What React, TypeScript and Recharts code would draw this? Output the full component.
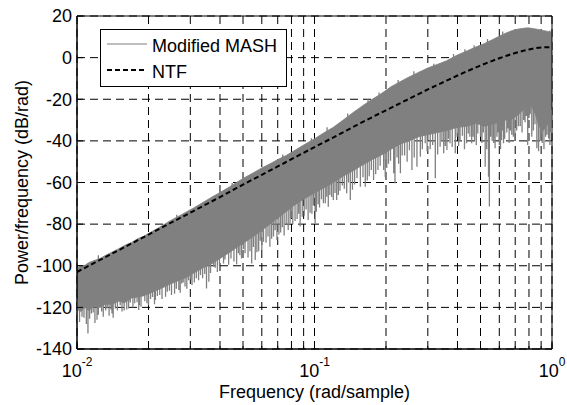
import React from 'react';
import {
  ComposedChart,
  Area,
  Line,
  XAxis,
  YAxis,
  CartesianGrid,
  Legend,
  ReferenceArea,
} from 'recharts';

const FONT = '"Liberation Sans", Arial, Helvetica, sans-serif';

// ---- axis ticks ----
const freqTicks = [
  0.01, 0.02, 0.03, 0.04, 0.05, 0.06, 0.07, 0.08, 0.09,
  0.1, 0.2, 0.3, 0.4, 0.5, 0.6, 0.7, 0.8, 0.9, 1,
];
const majorFreqTicks = [0.01, 0.1, 1];
const majorFreqExps = ['-2', '-1', '0'];
const dbTicks = [-140, -120, -100, -80, -60, -40, -20, 0, 20];

// ---- NTF (black dashed) ----
const ntfFreq = [
  0.01, 0.0125, 0.015, 0.02, 0.025, 0.03, 0.04, 0.05, 0.06, 0.07, 0.08, 0.1,
  0.125, 0.15, 0.2, 0.25, 0.3, 0.35, 0.4, 0.5, 0.6, 0.7, 0.8, 0.9, 1.0,
];
const ntfDb = [
  -103, -97.2, -92.5, -85, -79.2, -74.5, -67, -61, -56.3, -52.3, -48.8, -43,
  -37.3, -32.5, -25.3, -19.8, -15.3, -11.7, -8.6, -3.8, -0.3, 2.2, 3.9, 4.9, 5.0,
];

// ---- Modified MASH PSD: dense band (low / high edge) ----
const bandFreq = [
  0.01, 0.0104, 0.0108, 0.0112, 0.0118, 0.0125, 0.0132, 0.014, 0.015, 0.016,
  0.017, 0.018, 0.019, 0.02, 0.0215, 0.023, 0.025, 0.027, 0.029, 0.031,
  0.034, 0.037, 0.04, 0.044, 0.048, 0.052, 0.056, 0.06, 0.065, 0.07,
  0.076, 0.082, 0.09, 0.1, 0.11, 0.12, 0.132, 0.145, 0.16, 0.175,
  0.19, 0.21, 0.23, 0.25, 0.275, 0.3, 0.33, 0.36, 0.4, 0.44,
  0.48, 0.52, 0.56, 0.6, 0.64, 0.68, 0.72, 0.76, 0.79, 0.82,
  0.85, 0.88, 0.92, 0.96, 1.0,
];
const bandLow = [
  -121, -122, -120, -121.5, -119.5, -120, -118.5, -118.5, -117, -117.5,
  -115.5, -115, -114.5, -113.5, -112, -110.5, -108.5, -107, -105.5, -103.5,
  -101, -99, -96.5, -93.5, -90.5, -88, -85.5, -83, -80, -77,
  -74, -71, -68, -65, -62.5, -60, -57, -54.5, -51.5, -49,
  -47, -44, -41.5, -40, -38, -37, -36, -35, -33.5, -33,
  -31.5, -33, -32, -31, -30, -29.5, -27.5, -25, -22.5, -23.5,
  -27, -33, -35, -32, -30.5,
];
const bandHigh = [
  -101.5, -100, -99.8, -98.5, -97.5, -96.5, -95, -93.5, -91.8, -90,
  -88.8, -87, -86, -84.5, -82.5, -80.5, -78, -76, -74, -72.2,
  -69.5, -67, -64.8, -62, -59.3, -57, -55, -53, -51, -49,
  -47, -44.8, -42, -39, -36, -33.5, -30, -26.5, -23, -20,
  -17.5, -14, -11.5, -9.3, -7, -5, -3.2, -1.5, 1.3, 3.3,
  5.2, 6.8, 8.6, 10.3, 11.8, 13, 13.7, 14.1, 14.3, 14.1,
  13.8, 13.5, 13, 12.6, 12,
];

// ---- Modified MASH PSD: long downward spikes (frequency, start inside band, tip) ----
const spikeFreq = [
  0.01003, 0.0105, 0.01112, 0.0115, 0.01214, 0.0127, 0.0132, 0.01365, 0.01404, 0.0145,
  0.01547, 0.01567, 0.0162, 0.01677, 0.0172, 0.01819, 0.0186, 0.0197, 0.0204, 0.02137,
  0.0223, 0.0236, 0.0245, 0.02575, 0.02683, 0.0276, 0.0285, 0.0295, 0.0305, 0.0318,
  0.03311, 0.0351, 0.0359, 0.0376, 0.039, 0.0414, 0.0435, 0.047, 0.0485, 0.0502,
  0.0525, 0.0544, 0.0563, 0.0582, 0.06, 0.0625, 0.0649, 0.0672, 0.0695, 0.072,
  0.0745, 0.0775, 0.0789, 0.081, 0.0845, 0.087, 0.0905, 0.094, 0.0975, 0.1006,
  0.1018, 0.105, 0.109, 0.1126, 0.1143, 0.118, 0.12, 0.124, 0.128, 0.1366,
  0.1415, 0.1475, 0.156, 0.1636, 0.17, 0.1773, 0.185, 0.1955, 0.1985, 0.205,
  0.2155, 0.2182, 0.2226, 0.23, 0.2395, 0.2572, 0.27, 0.279, 0.2925, 0.307,
  0.3226, 0.338, 0.35, 0.361, 0.372, 0.3915, 0.41, 0.4367, 0.444, 0.459,
  0.4653, 0.48, 0.5, 0.5232, 0.5404, 0.545, 0.56, 0.576, 0.586, 0.6,
  0.613, 0.625, 0.645, 0.6874, 0.71, 0.735, 0.76, 0.78, 0.81, 0.835,
  0.8634, 0.892, 0.91, 0.94, 0.9677, 0.99,
];
const spikeBase = [
  -116, -116, -116, -115, -115, -114, -114, -113, -113, -112,
  -112, -112, -111, -110, -110, -109, -109, -108, -108, -107,
  -106, -105, -104, -103, -102, -101, -100, -99, -98, -97,
  -96, -94, -94, -93, -92, -90, -88, -85, -84, -83,
  -82, -80, -79, -78, -77, -75, -74, -73, -72, -70,
  -69, -68, -67, -66, -64, -63, -62, -61, -60, -59,
  -59, -58, -57, -56, -56, -55, -54, -53, -52, -50,
  -50, -48, -47, -46, -45, -44, -42, -41, -41, -40,
  -38, -38, -37, -36, -35, -34, -33, -33, -32, -31,
  -31, -30, -30, -29, -29, -28, -28, -27, -27, -26,
  -26, -26, -26, -26, -26, -26, -26, -25, -25, -25,
  -24, -24, -23, -22, -22, -20, -18, -17, -17, -19,
  -24, -26, -27, -27, -26, -25,
];
const spikeTip = [
  -130, -124.5, -132.5, -123, -126, -122, -121.5, -124, -123, -120.5,
  -122, -118, -121, -117.6, -120, -121.3, -119.7, -118, -116, -116.5,
  -114, -114.9, -112, -113.5, -111.7, -108.5, -110, -107, -109.3, -106,
  -104.5, -110.9, -107.7, -100.5, -103, -98.9, -99.5, -99.3, -95, -92,
  -96, -98.9, -97.2, -93, -92.4, -89, -90.9, -86, -87.6, -84,
  -85.5, -82.8, -79.6, -80, -77.5, -81.2, -76, -78, -75, -79.6,
  -74, -72, -70, -66.8, -71.6, -67, -68.4, -68.4, -64, -65.2,
  -68.4, -61, -62, -62, -57, -58.8, -54, -54, -57.2, -51,
  -55.6, -60.4, -48, -55.6, -47, -54, -52.4, -47.6, -41.2, -44,
  -58, -42.8, -46, -44.4, -41.2, -46, -40, -41.2, -36.4, -41.2,
  -38, -42, -38, -52.4, -57.2, -71.5, -40, -43.6, -38, -42,
  -39.6, -41.2, -36, -38, -35, -33, -30, -28, -27, -35,
  -43.6, -39.6, -41, -38, -38.8, -36,
];

// ---- Modified MASH PSD: shorter fringe spikes along the lower edge ----
const fringeFreq = [
  0.01025, 0.0107, 0.01095, 0.0113, 0.0117, 0.0119, 0.0123, 0.0129, 0.0134, 0.0139,
  0.0142, 0.0148, 0.0152, 0.0158, 0.0165, 0.0175, 0.0179, 0.0183, 0.0193, 0.02,
  0.0208, 0.0212, 0.0218, 0.0228, 0.024, 0.025, 0.0262, 0.0272, 0.028, 0.029,
  0.0301, 0.0312, 0.0325, 0.0338, 0.0345, 0.0365, 0.0382, 0.0398, 0.042, 0.0445,
  0.0458, 0.0478, 0.0493, 0.051, 0.0535, 0.0553, 0.0572, 0.0591, 0.061, 0.0637,
  0.066, 0.0683, 0.0708, 0.0732, 0.076, 0.0798, 0.0828, 0.0858, 0.0888, 0.0922,
  0.0958, 0.099, 0.1035, 0.107, 0.111, 0.116, 0.122, 0.126, 0.131, 0.1335,
  0.139, 0.1445, 0.151, 0.16, 0.1668, 0.1735, 0.181, 0.189, 0.2015, 0.209,
  0.226, 0.234, 0.2455, 0.251, 0.263, 0.2845, 0.298, 0.3145, 0.33, 0.344,
  0.3555, 0.3665, 0.38, 0.3985, 0.4045, 0.4195, 0.428, 0.451, 0.472, 0.487,
  0.507, 0.514, 0.531, 0.552, 0.568, 0.593, 0.607, 0.619, 0.632, 0.652,
  0.66, 0.668, 0.677, 0.698, 0.7225, 0.748, 0.77, 0.79, 0.8, 0.822,
  0.848, 0.878, 0.9, 0.925, 0.953, 0.98,
];
const fringeBase = [
  -116, -116, -116, -115, -115, -115, -114, -114, -113, -113,
  -113, -112, -112, -111, -110, -110, -109, -109, -108, -108,
  -107, -107, -106, -105, -104, -104, -103, -102, -101, -100,
  -99, -98, -97, -96, -95, -94, -92, -91, -89, -87,
  -86, -85, -84, -83, -81, -80, -79, -78, -76, -75,
  -74, -72, -71, -70, -68, -67, -65, -64, -63, -61,
  -60, -59, -58, -57, -56, -55, -53, -52, -51, -51,
  -50, -49, -48, -46, -45, -44, -43, -41, -40, -39,
  -37, -36, -35, -34, -34, -32, -31, -31, -30, -30,
  -29, -29, -28, -28, -27, -27, -27, -26, -26, -26,
  -26, -26, -26, -26, -25, -25, -24, -24, -23, -23,
  -23, -22, -22, -22, -21, -19, -18, -17, -17, -18,
  -21, -25, -26, -27, -26, -25,
];
const fringeTip = [
  -127, -125, -128, -125.5, -122.5, -127.5, -123.5, -124.5, -120.5, -121,
  -125, -121.5, -119, -121.5, -120.5, -118, -117.5, -119, -117, -119,
  -115, -118.5, -114.5, -116, -112.5, -114, -111, -113, -108, -111,
  -106.5, -108, -107, -106, -104, -103.5, -101, -100, -97, -96.5,
  -98, -94, -96.5, -94, -93, -91, -93.5, -88, -88.5, -86,
  -87, -83, -85, -81.5, -80, -77, -78.5, -75, -76.5, -73,
  -74.5, -71, -70.5, -68, -70, -66, -65, -66, -61.5, -63,
  -60, -63.5, -58, -57.5, -59, -54, -56, -52, -53, -49.5,
  -51, -47, -50, -44.5, -48, -44, -45, -42, -46.5, -40,
  -42.5, -39, -43, -38, -42.5, -37.5, -44, -38, -40, -36.5,
  -41, -36, -44, -38, -41, -36, -44, -35, -39, -34,
  -41, -35, -37, -40, -33, -36, -31, -42, -29, -38,
  -32, -45, -37, -44, -37, -42,
];

// ---- Modified MASH PSD: small upward hairs on the upper edge ----
const hairFreq = [
  0.0123, 0.0263, 0.045, 0.0735, 0.097, 0.113, 0.138, 0.168, 0.187, 0.225,
  0.262, 0.318, 0.385, 0.43, 0.47, 0.535, 0.62, 0.98,
];
const hairBase = [
  -100, -80, -65, -50, -43, -38, -30, -24, -20, -14,
  -10, -6, -2, 0, 2, 5, 8, 9,
];
const hairTip = [
  -95, -75.5, -60.3, -46.5, -38.7, -33.5, -26.8, -20, -16.8, -10.8,
  -6.6, -2.9, 1.8, 4, 6, 9, 12.5, 13,
];

// ---- legend ----
const legendNames = ['Modified MASH', 'NTF'];

// ---- derived tables for the library ----
const ntfData = ntfFreq.map((f, i) => ({ f, v: ntfDb[i] }));
const bandData = bandFreq.map((f, i) => ({ f, band: [bandLow[i], bandHigh[i]] }));
const toSegments = (fs: number[], bs: number[], ts: number[]) =>
  fs.flatMap((f, i) => [
    { f, v: bs[i] },
    { f, v: ts[i] },
    { f, v: null as number | null },
  ]);
const spikeData = [
  ...toSegments(spikeFreq, spikeBase, spikeTip),
  ...toSegments(fringeFreq, fringeBase, fringeTip),
  ...toSegments(hairFreq, hairBase, hairTip),
];

const PSD_GRAY = '#808080';

const XTick = (props: any) => {
  const { x, y, payload } = props;
  const idx = majorFreqTicks.findIndex((t) => Math.abs(t - payload.value) < 1e-9);
  return (
    <g>
      <line x1={x} x2={x} y1={y} y2={y - (idx >= 0 ? 6 : 3)} stroke="#000" strokeWidth={1} />
      {idx >= 0 && (
        <text x={x} y={y + 28} textAnchor="middle" fontFamily={FONT} fontSize={18} fill="#000">
          10
          <tspan dy={-11} fontSize={12}>
            {majorFreqExps[idx]}
          </tspan>
        </text>
      )}
    </g>
  );
};

const YTick = (props: any) => {
  const { x, y, payload } = props;
  return (
    <g>
      <line x1={x} x2={x + 6} y1={y} y2={y} stroke="#000" strokeWidth={1} />
      <text x={x - 5} y={y + 6.3} textAnchor="end" fontFamily={FONT} fontSize={18} fill="#000">
        {payload.value}
      </text>
    </g>
  );
};

const YLabel = (props: any) => {
  const vb = props.viewBox || { x: 17, y: 16, width: 60, height: 333 };
  const cx = vb.x + 5;
  const cy = vb.y + vb.height / 2;
  return (
    <text
      x={cx}
      y={cy}
      transform={`rotate(-90 ${cx} ${cy})`}
      textAnchor="middle"
      dominantBaseline="central"
      fontFamily={FONT}
      fontSize={18}
      fill="#000"
    >
      Power/frequency (dB/rad)
    </text>
  );
};

const XLabel = (props: any) => {
  const vb = props.viewBox || { x: 77, y: 349, width: 475, height: 56 };
  return (
    <text
      x={vb.x + vb.width / 2}
      y={vb.y + 49}
      textAnchor="middle"
      fontFamily={FONT}
      fontSize={18}
      fill="#000"
    >
      Frequency (rad/sample)
    </text>
  );
};

const LegendBox = () => (
  <svg width={187} height={58} style={{ display: 'block' }}>
    <rect x={0.5} y={0.5} width={186} height={57} fill="#fff" stroke="#000" strokeWidth={1} />
    <line x1={7} x2={47} y1={15} y2={15} stroke="#a8a8a8" strokeWidth={1.4} />
    <text x={52} y={22.5} fontFamily={FONT} fontSize={18} fill="#000">
      {legendNames[0]}
    </text>
    <line x1={7} x2={47} y1={41} y2={41} stroke="#000" strokeWidth={2} strokeDasharray="5 3" />
    <text x={52} y={48.5} fontFamily={FONT} fontSize={18} fill="#000">
      {legendNames[1]}
    </text>
  </svg>
);

export default function App() {
  return (
    <div style={{ position: 'absolute', left: 0, top: 0, background: '#fff' }}>
      <ComposedChart width={567} height={405} margin={{ top: 16, right: 15, bottom: 0, left: 17 }}>
        <CartesianGrid stroke="#000" strokeWidth={1} strokeDasharray="8 5" />
        <XAxis
          dataKey="f"
          type="number"
          scale="log"
          domain={[0.01, 1]}
          ticks={freqTicks}
          interval={0}
          allowDataOverflow
          height={56}
          tickSize={0}
          tickMargin={0}
          tickLine={false}
          axisLine={{ stroke: '#000' }}
          tick={<XTick />}
          label={<XLabel />}
        />
        <YAxis
          type="number"
          domain={[-140, 20]}
          ticks={dbTicks}
          interval={0}
          allowDataOverflow
          width={60}
          tickSize={0}
          tickMargin={0}
          tickLine={false}
          axisLine={{ stroke: '#000' }}
          tick={<YTick />}
          label={<YLabel />}
        />
        <Area
          data={bandData}
          dataKey="band"
          type="linear"
          stroke={PSD_GRAY}
          strokeWidth={0.8}
          fill={PSD_GRAY}
          fillOpacity={1}
          isAnimationActive={false}
          legendType="none"
          activeDot={false}
        />
        <Line
          data={spikeData}
          dataKey="v"
          type="linear"
          stroke={PSD_GRAY}
          strokeWidth={1.3}
          dot={false}
          activeDot={false}
          isAnimationActive={false}
          legendType="none"
        />
        <Line
          data={ntfData}
          dataKey="v"
          type="monotone"
          stroke="#000"
          strokeWidth={2}
          strokeDasharray="5 3"
          dot={false}
          activeDot={false}
          isAnimationActive={false}
          legendType="none"
        />
        <ReferenceArea
          x1={0.01}
          x2={1}
          y1={-140}
          y2={20}
          fill="none"
          stroke="#000"
          strokeWidth={1}
          ifOverflow="visible"
        />
        <Legend
          layout="vertical"
          align="center"
          verticalAlign="middle"
          content={<LegendBox />}
          wrapperStyle={{ left: 100, top: 29, width: 187, height: 58 }}
        />
      </ComposedChart>
    </div>
  );
}
